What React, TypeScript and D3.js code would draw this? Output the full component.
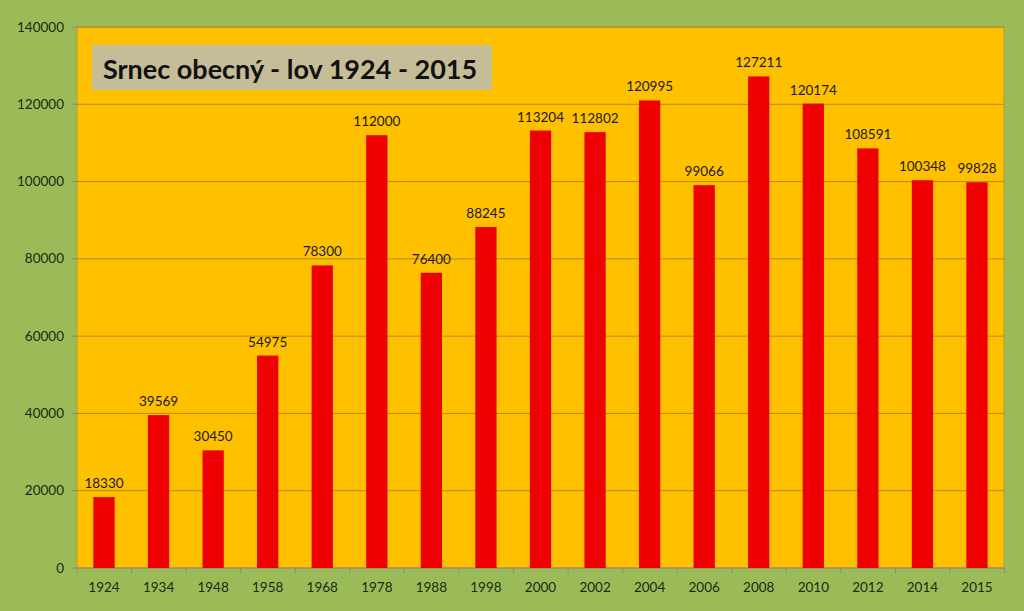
import React from "react";
import * as d3 from "d3";

const categories = ["1924","1934","1948","1958","1968","1978","1988","1998","2000","2002","2004","2006","2008","2010","2012","2014","2015"];
const values = [18330,39569,30450,54975,78300,112000,76400,88245,113204,112802,120995,99066,127211,120174,108591,100348,99828];
const yTicks = [0,20000,40000,60000,80000,100000,120000,140000];
const title = "Srnec obecný - lov 1924 - 2015";

const W = 1024, H = 611;
const L = 77, R = 1004, T = 27, B = 568;

export default function App() {
  const x = d3.scaleBand<string>().domain(categories).range([L, R]).paddingInner(0.61).paddingOuter(0.3);
  const y = d3.scaleLinear().domain([0, 140000]).range([B, T]);
  const font = "Lato, 'Open Sans', sans-serif";
  const step = x.step();
  return (
    <svg width={W} height={H} style={{ position: "absolute", left: 0, top: 0 }}>
      <rect x={0} y={0} width={W} height={H} fill="#9BBB59" />
      <rect x={L} y={T} width={R - L} height={B - T} fill="#FFC000" stroke="#B59A3C" strokeWidth={1} />
      {yTicks.map(t => (
        <g key={t}>
          {t > 0 && <line x1={L} x2={R} y1={y(t)} y2={y(t)} stroke="#B08A2A" strokeWidth={1} />}
          <line x1={L - 5} x2={L} y1={y(t)} y2={y(t)} stroke="#8a8a8a" />
          <text x={L - 13} y={y(t) + 4.5} textAnchor="end" fontSize={13.5} fill="#1c2a10" fontFamily={font}>{t}</text>
        </g>
      ))}
      <line x1={L} x2={R} y1={B} y2={B} stroke="#8a8a8a" />
      {categories.map((c, i) => (
        <line key={"tk" + c} x1={L + step * (i + 1)} x2={L + step * (i + 1)} y1={B} y2={B + 5} stroke="#8a8a8a" />
      ))}
      <line x1={L} x2={L} y1={B} y2={B + 5} stroke="#8a8a8a" />
      {categories.map((c, i) => {
        const xc = (x(c) as number) + x.bandwidth() / 2;
        return (
          <g key={c}>
            <rect x={x(c)} y={y(values[i])} width={x.bandwidth()} height={B - y(values[i])} fill="#EE0000" />
            <text x={xc} y={y(values[i]) - 9} textAnchor="middle" fontSize={13.5} fill="#1a1a1a" fontFamily={font}>{values[i]}</text>
            <text x={xc} y={B + 24} textAnchor="middle" fontSize={13.5} fill="#1c2a10" fontFamily={font}>{c}</text>
          </g>
        );
      })}
      <rect x={92} y={45} width={400} height={45} fill="#C4BD97" />
      <text x={103} y={79} fontSize={27} fontWeight="bold" fill="#111" fontFamily={font}>{title}</text>
    </svg>
  );
}
